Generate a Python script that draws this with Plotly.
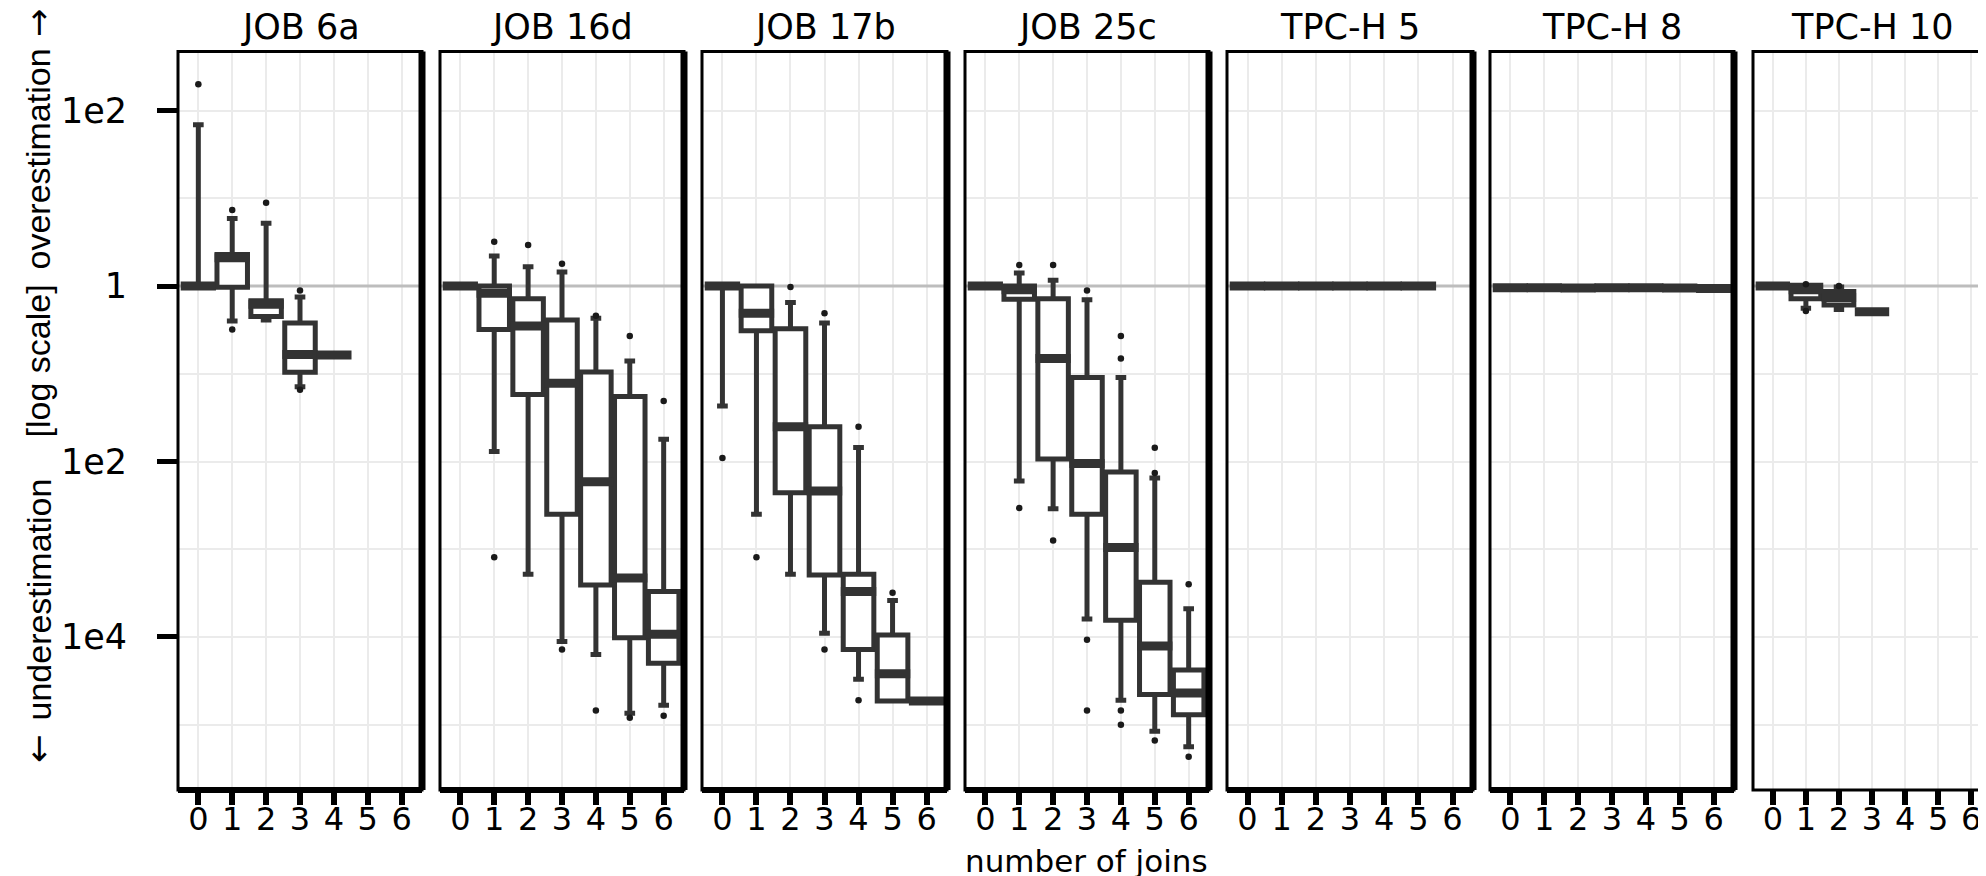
import plotly.graph_objects as go

W, H = 1986, 876

panel_titles = ["JOB 6a", "JOB 16d", "JOB 17b", "JOB 25c", "TPC-H 5", "TPC-H 8", "TPC-H 10"]
join_ticks = [0, 1, 2, 3, 4, 5, 6]
y_tick_vals = [100, 1, 0.01, 0.0001]
y_tick_text = ["1e2", "1", "1e2", "1e4"]
y_minor_vals = [10, 0.1, 0.001, 0.00001]
reference_ratio = 1.0

# ---- JOB 6a ----
job6a_joins = [0, 1, 2, 3, 4]
job6a_q1 = [1.0, 0.97, 0.45, 0.104, 0.164]
job6a_median = [1.0, 2.1, 0.62, 0.166, 0.164]
job6a_q3 = [1.0, 2.3, 0.68, 0.38, 0.164]
job6a_low = [1.0, 0.40, 0.41, 0.071, 0.164]
job6a_high = [69, 5.9, 5.2, 0.75, 0.164]
job6a_out_x = [0, 1, 1, 2, 3, 3]
job6a_out_y = [200, 7.4, 0.32, 8.9, 0.89, 0.066]

# ---- JOB 16d ----
job16d_joins = [0, 1, 2, 3, 4, 5, 6]
job16d_q1 = [1.0, 0.32, 0.058, 2.5e-3, 3.9e-4, 9.8e-5, 5.0e-5]
job16d_median = [1.0, 0.83, 0.35, 0.078, 5.9e-3, 4.7e-4, 1.07e-4]
job16d_q3 = [1.0, 1.0, 0.72, 0.41, 0.105, 0.055, 3.3e-4]
job16d_low = [1.0, 0.013, 5.2e-4, 8.9e-5, 6.3e-5, 1.35e-5, 1.66e-5]
job16d_high = [1.0, 2.2, 1.66, 1.45, 0.43, 0.14, 0.018]
job16d_out_x = [1, 1, 2, 3, 3, 4, 4, 5, 5, 6, 6]
job16d_out_y = [3.2, 8.1e-4, 2.95, 1.8, 7.2e-5, 0.46, 1.45e-5, 0.27, 1.2e-5, 0.049, 1.26e-5]

# ---- JOB 17b ----
job17b_joins = [0, 1, 2, 3, 4, 5, 6]
job17b_q1 = [1.0, 0.31, 4.4e-3, 5.1e-4, 7.2e-5, 1.86e-5, 1.86e-5]
job17b_median = [1.0, 0.49, 0.025, 4.6e-3, 3.3e-4, 3.8e-5, 1.86e-5]
job17b_q3 = [1.0, 1.0, 0.326, 0.025, 5.2e-4, 1.05e-4, 1.86e-5]
job17b_low = [0.043, 2.5e-3, 5.2e-4, 1.1e-4, 3.3e-5, 1.86e-5, 1.86e-5]
job17b_high = [1.0, 1.0, 0.65, 0.38, 0.0145, 2.6e-4, 1.86e-5]
job17b_out_x = [0, 1, 2, 3, 3, 4, 4, 5]
job17b_out_y = [0.011, 8.1e-4, 0.98, 0.49, 7.2e-5, 0.025, 1.9e-5, 3.2e-4]

# ---- JOB 25c ----
job25c_joins = [0, 1, 2, 3, 4, 5, 6]
job25c_q1 = [1.0, 0.71, 0.0107, 2.5e-3, 1.55e-4, 2.2e-5, 1.3e-5]
job25c_median = [1.0, 0.91, 0.15, 9.5e-3, 1.05e-3, 7.9e-5, 2.3e-5]
job25c_q3 = [1.0, 1.0, 0.72, 0.091, 7.6e-3, 4.2e-4, 4.2e-5]
job25c_low = [1.0, 6.0e-3, 2.9e-3, 1.6e-4, 1.9e-5, 8.4e-6, 5.6e-6]
job25c_high = [1.0, 1.41, 1.17, 0.70, 0.091, 6.5e-3, 2.1e-4]
job25c_out_x = [1, 1, 2, 2, 3, 3, 3, 4, 4, 4, 4, 5, 5, 5, 6, 6]
job25c_out_y = [1.74, 2.95e-3, 1.74, 1.26e-3, 0.89, 9.3e-5, 1.45e-5,
                0.15, 0.27, 1.45e-5, 1.0e-5, 7.4e-3, 0.0144, 6.6e-6, 4.0e-4, 4.3e-6]

# ---- TPC-H 5 ----
tpch5_joins = [0, 1, 2, 3, 4, 5]
tpch5_q1 = [1.0, 1.0, 1.0, 1.0, 1.0, 1.0]
tpch5_median = [1.0, 1.0, 1.0, 1.0, 1.0, 1.0]
tpch5_q3 = [1.0, 1.0, 1.0, 1.0, 1.0, 1.0]
tpch5_low = [1.0, 1.0, 1.0, 1.0, 1.0, 1.0]
tpch5_high = [1.0, 1.0, 1.0, 1.0, 1.0, 1.0]
tpch5_out_x = []
tpch5_out_y = []

# ---- TPC-H 8 ----
tpch8_joins = [0, 1, 2, 3, 4, 5, 6]
tpch8_q1 = [0.96, 0.96, 0.95, 0.96, 0.96, 0.95, 0.94]
tpch8_median = [0.96, 0.96, 0.95, 0.96, 0.96, 0.95, 0.94]
tpch8_q3 = [0.96, 0.96, 0.95, 0.96, 0.96, 0.95, 0.94]
tpch8_low = [0.96, 0.96, 0.95, 0.96, 0.96, 0.95, 0.94]
tpch8_high = [0.96, 0.96, 0.95, 0.96, 0.96, 0.95, 0.94]
tpch8_out_x = []
tpch8_out_y = []

# ---- TPC-H 10 ----
tpch10_joins = [0, 1, 2, 3]
tpch10_q1 = [1.0, 0.72, 0.61, 0.51]
tpch10_median = [1.0, 0.91, 0.74, 0.51]
tpch10_q3 = [1.0, 1.02, 0.87, 0.51]
tpch10_low = [1.0, 0.56, 0.54, 0.51]
tpch10_high = [1.0, 1.02, 0.98, 0.51]
tpch10_out_x = [1, 1, 2]
tpch10_out_y = [0.52, 1.05, 1.0]

panels = [
    (job6a_joins, job6a_q1, job6a_median, job6a_q3, job6a_low, job6a_high, job6a_out_x, job6a_out_y),
    (job16d_joins, job16d_q1, job16d_median, job16d_q3, job16d_low, job16d_high, job16d_out_x, job16d_out_y),
    (job17b_joins, job17b_q1, job17b_median, job17b_q3, job17b_low, job17b_high, job17b_out_x, job17b_out_y),
    (job25c_joins, job25c_q1, job25c_median, job25c_q3, job25c_low, job25c_high, job25c_out_x, job25c_out_y),
    (tpch5_joins, tpch5_q1, tpch5_median, tpch5_q3, tpch5_low, tpch5_high, tpch5_out_x, tpch5_out_y),
    (tpch8_joins, tpch8_q1, tpch8_median, tpch8_q3, tpch8_low, tpch8_high, tpch8_out_x, tpch8_out_y),
    (tpch10_joins, tpch10_q1, tpch10_median, tpch10_q3, tpch10_low, tpch10_high, tpch10_out_x, tpch10_out_y),
]

# ---- layout geometry (pixels) ----
panel_px = [(170, 414), (432, 676), (694, 939), (957, 1201), (1219, 1465), (1482, 1726), (1745, 1983)]
plot_top_px, plot_bot_px = 43.5, 782
ydom = [1 - plot_bot_px / H, 1 - plot_top_px / H]
yrange = [-5.745, 2.675]
xrange_ = [-0.6, 6.6]

DARK = "#333333"
GRID = "#ebebeb"
BOX_W = 0.9
HFONT = "DejaVu Sans"
VFONT = "Liberation Sans"
FS = 35

fig = go.Figure()
shapes = []
annotations = []

for i, (joins, q1, med, q3, lo, hi, ox, oy) in enumerate(panels):
    n = i + 1
    xa = "x" if n == 1 else f"x{n}"
    ya = "y" if n == 1 else f"y{n}"
    fig.add_trace(go.Box(
        x=joins, q1=q1, median=med, q3=q3, lowerfence=lo, upperfence=hi,
        xaxis=xa, yaxis=ya, width=BOX_W, whiskerwidth=0.35,
        fillcolor="white", line=dict(color=DARK, width=5),
        boxpoints=False, showlegend=False, hoverinfo="skip",
    ))
    # thick median bars (ggplot fatten)
    mx, my = [], []
    half = BOX_W / 2 + 0.07
    for j, m in zip(joins, med):
        mx += [j - half, j + half, None]
        my += [m, m, None]
    fig.add_trace(go.Scatter(
        x=mx, y=my, mode="lines", line=dict(color=DARK, width=9),
        xaxis=xa, yaxis=ya, showlegend=False, hoverinfo="skip",
    ))
    if ox:
        fig.add_trace(go.Scatter(
            x=ox, y=oy, mode="markers",
            marker=dict(color="#1a1a1a", size=6.5, symbol="circle"),
            xaxis=xa, yaxis=ya, showlegend=False, hoverinfo="skip",
        ))

    x0, x1 = panel_px[i]
    xkey = "xaxis" if n == 1 else f"xaxis{n}"
    ykey = "yaxis" if n == 1 else f"yaxis{n}"
    fig.update_layout(**{
        xkey: dict(
            domain=[x0 / W, x1 / W], range=xrange_, anchor=ya,
            tickmode="array", tickvals=join_ticks, ticktext=[str(t) for t in join_ticks],
            ticks="outside", ticklen=14, tickwidth=6, tickcolor="black",
            ticklabelstandoff=-13,
            tickfont=dict(family=HFONT, size=32, color="black"),
            showgrid=True, gridcolor=GRID, gridwidth=2,
            zeroline=False, showline=False, fixedrange=True,
        ),
        ykey: dict(
            domain=ydom, type="log", range=yrange, anchor=xa,
            tickmode="array", tickvals=y_tick_vals, ticktext=y_tick_text,
            showticklabels=(n == 1), ticks="outside" if n == 1 else "",
            ticklen=20, tickwidth=5, tickcolor="black", ticklabelstandoff=23,
            tickfont=dict(family=HFONT, size=FS, color="black"),
            showgrid=True, gridcolor=GRID, gridwidth=2,
            minor=dict(tickvals=y_minor_vals, showgrid=True, gridcolor=GRID, gridwidth=2, ticks=""),
            zeroline=False, showline=False, fixedrange=True,
        ),
    })

    xd = f"{xa} domain"
    yd = f"{ya} domain"
    # reference line at ratio 1: above the grid, below the boxes
    shapes.append(dict(type="line", xref=xa, yref=ya, x0=xrange_[0], x1=xrange_[1],
                       y0=reference_ratio, y1=reference_ratio,
                       line=dict(color="#bdbdbd", width=3), layer="between"))
    # panel border
    shapes.append(dict(type="rect", xref=xd, yref=yd, x0=0, x1=1, y0=0, y1=1,
                       line=dict(color="black", width=3), fillcolor="rgba(0,0,0,0)", layer="above"))
    if n < 7:
        shapes.append(dict(type="line", xref=xd, yref=yd, x0=1, x1=1, y0=0, y1=1,
                           line=dict(color="black", width=7), layer="above"))
        shapes.append(dict(type="line", xref=xd, yref=yd, x0=0, x1=1, y0=0, y1=0,
                           line=dict(color="black", width=6), layer="above"))
    # facet title
    annotations.append(dict(
        text=panel_titles[i], xref="paper", yref="paper",
        x=(x0 + x1) / 2 / W, y=1 - 19 / H, xanchor="center", yanchor="middle",
        showarrow=False, font=dict(family=HFONT, size=FS, color="black"),
    ))

# axis titles
annotations.append(dict(
    text="number of joins", xref="paper", yref="paper",
    x=1078 / W, y=1 - 853 / H, xanchor="center", yanchor="middle",
    showarrow=False, font=dict(family=HFONT, size=31, color="black"),
))
for txt, cy, fam in [("\u2192", 15, HFONT), ("overestimation", 151.5, VFONT),
                     ("[log scale]", 353.5, VFONT), ("underestimation", 591.5, VFONT),
                     ("\u2190", 741, HFONT)]:
    annotations.append(dict(
        text=txt, xref="paper", yref="paper", x=30 / W, y=1 - cy / H,
        xanchor="center", yanchor="middle", textangle=-90, showarrow=False,
        font=dict(family=fam, size=34, color="black"),
    ))

fig.update_layout(
    width=W, height=H, margin=dict(l=0, r=0, t=0, b=0),
    paper_bgcolor="white", plot_bgcolor="white",
    shapes=shapes, annotations=annotations, showlegend=False,
)

fig.write_html("out.html")
